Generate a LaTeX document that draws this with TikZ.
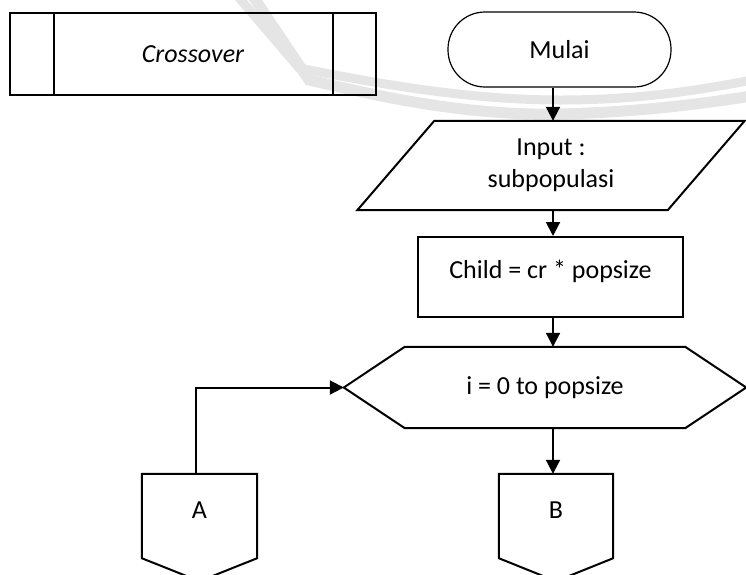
\documentclass[tikz,border=0pt]{standalone}
\usepackage{fontspec}
\setmainfont{Carlito}
\usetikzlibrary{arrows.meta,calc}
\begin{document}
\begin{tikzpicture}[x=1pt,y=-1pt,
  every node/.style={font=\fontsize{26}{32}\selectfont, inner sep=0pt},
  box/.style={draw, line width=2pt},
  outline/.style={line width=2pt},
  flow/.style={line width=2pt, -{Triangle[length=14pt,width=14pt]}},
  band/.style={line width=9pt, black!10}]
\useasboundingbox (0,0) rectangle (746,574);
\clip (0,0) rectangle (746,574);

% faint emblem bands in the background
\draw[band] (234,-8) -- (299,68) .. controls (360,80) and (460,100) .. (560,100)
  .. controls (640,100) and (700,90) .. (752,80);
\draw[band, line width=11pt] (250,-8) -- (309,80) .. controls (370,94) and (460,116) .. (560,114)
  .. controls (640,112) and (700,104) .. (752,96);

% predefined process
\node[box, minimum width=366pt, minimum height=82pt] (cross) at (193,54) {\itshape Crossover};
\draw[outline] ([xshift=45pt]cross.north west) -- ([xshift=45pt]cross.south west);
\draw[outline] ([xshift=-44pt]cross.north east) -- ([xshift=-44pt]cross.south east);

% terminal
\node[draw, line width=1.2pt, rounded corners=37pt, minimum width=223pt, minimum height=75pt] (start) at (559.5,49.5) {Mulai};

% input (parallelogram)
\node[minimum width=310pt, minimum height=89pt, align=center] (inp) at (551,165.5) {Input :\\subpopulasi};
\draw[outline] ([xshift=38.5pt]inp.north west) -- ([xshift=38.5pt]inp.north east)
  -- ([xshift=-38.5pt]inp.south east) -- ([xshift=-38.5pt]inp.south west) -- cycle;

% process
\node[box, minimum width=265pt, minimum height=80pt, text depth=16pt] (child) at (550.5,277) {Child = cr * popsize};

% loop (hexagon)
\node[minimum width=402pt, minimum height=81pt] (loop) at (545,387.5) {i = 0 to popsize};
\draw[outline] (loop.west) -- ([xshift=61pt]loop.north west) -- ([xshift=-61pt]loop.north east)
  -- (loop.east) -- ([xshift=-61pt]loop.south east) -- ([xshift=61pt]loop.south west) -- cycle;

% off-page connectors
\node[minimum width=115pt, minimum height=72pt] (pa) at (199.5,510) {A};
\draw[outline] (pa.north west) -- (pa.north east) -- ([yshift=-12pt]pa.south east)
  -- ([yshift=-35pt]pa.south) -- ([yshift=-12pt]pa.south west) -- cycle;
\node[minimum width=114pt, minimum height=72pt] (pb) at (556,510) {B};
\draw[outline] (pb.north west) -- (pb.north east) -- ([yshift=-12pt]pb.south east)
  -- ([yshift=-35pt]pb.south) -- ([yshift=-12pt]pb.south west) -- cycle;

% connectors
\coordinate (spine) at (553,0);
\draw[flow] (start.south -| spine) -- (inp.north -| spine);
\draw[flow] (inp.south -| spine) -- (child.north -| spine);
\draw[flow] (child.south -| spine) -- (loop.north -| spine);
\draw[flow] (loop.south -| spine) -- (pb.north -| spine);
\draw[flow] ([xshift=-3.5pt]pa.north) |- (loop.west);
\end{tikzpicture}
\end{document}
